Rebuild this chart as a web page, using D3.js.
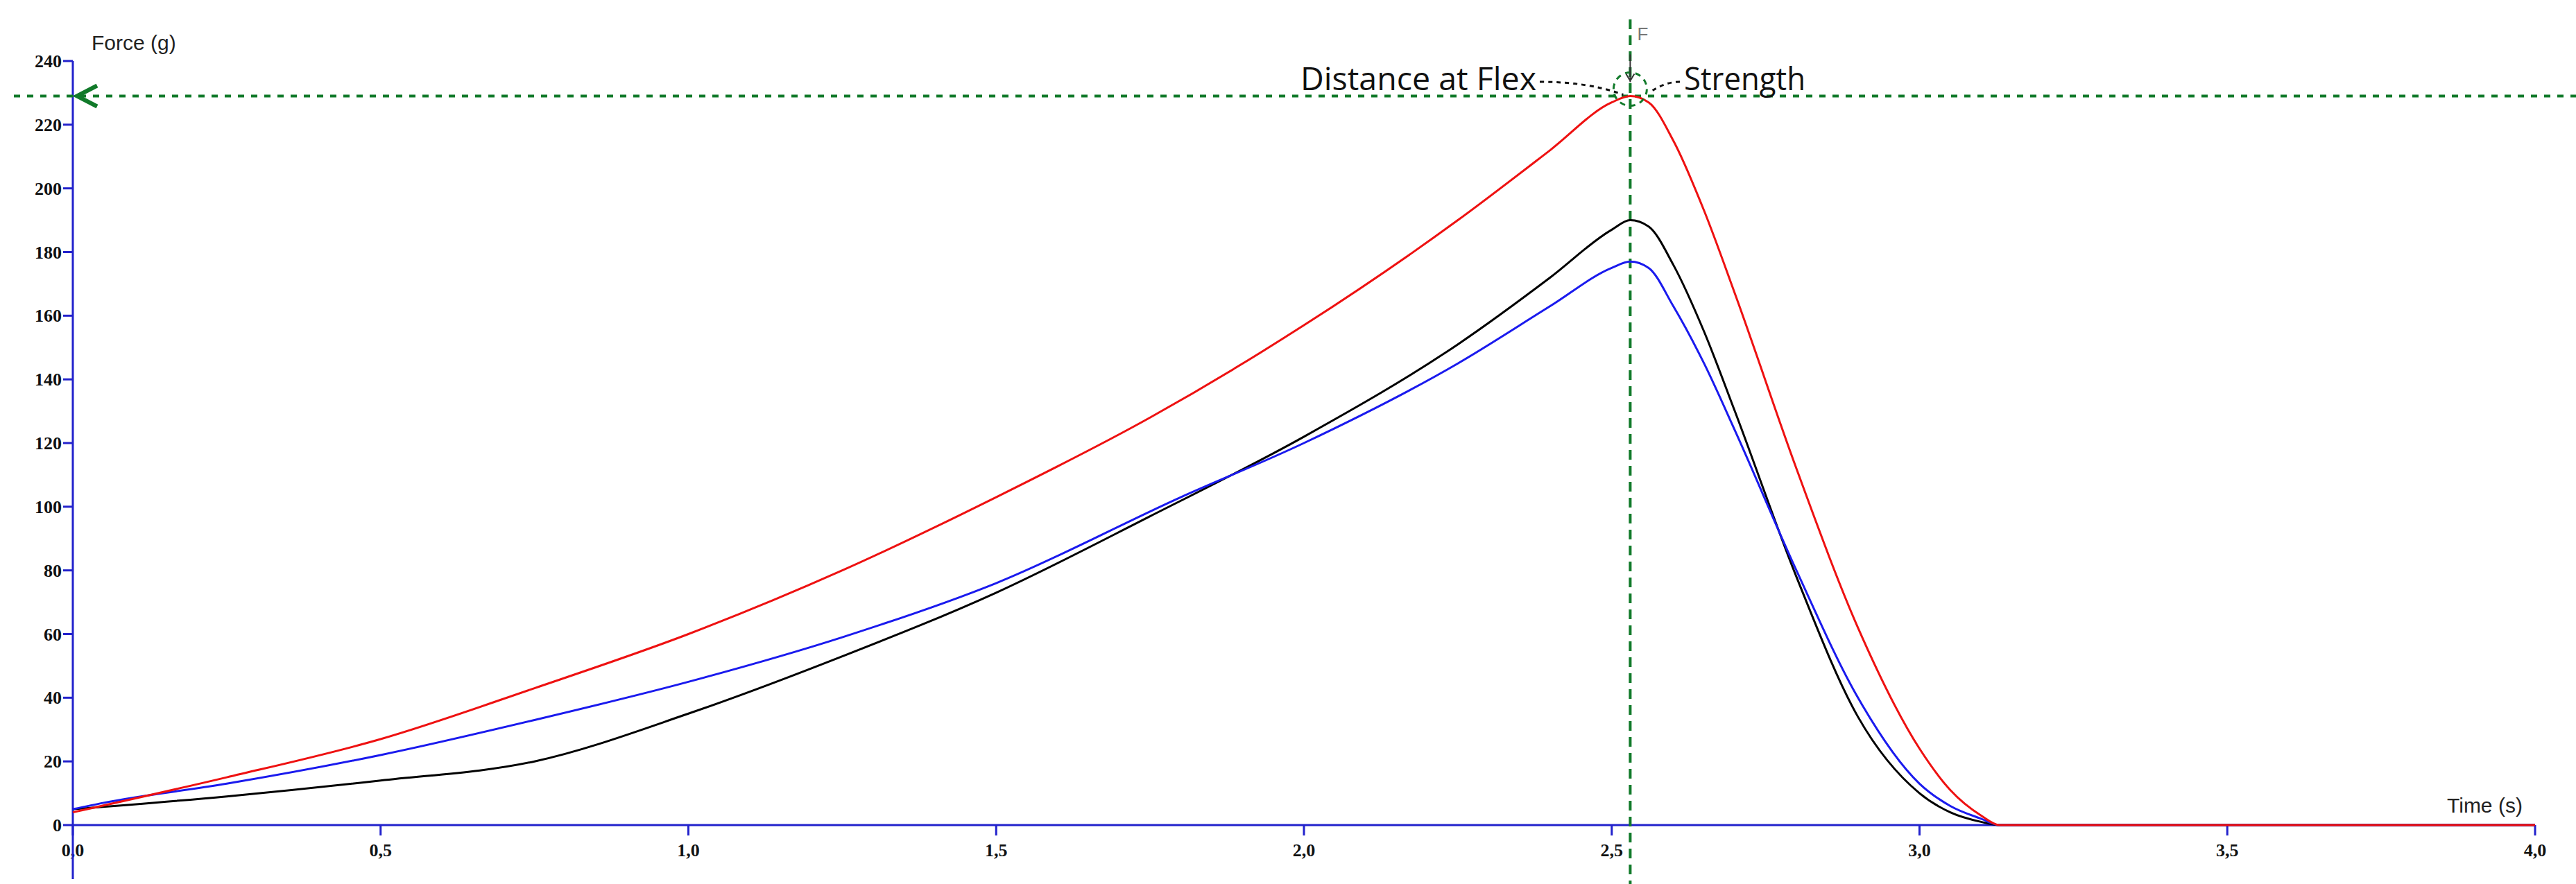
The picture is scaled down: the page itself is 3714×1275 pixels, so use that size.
<!DOCTYPE html>
<html>
<head>
<meta charset="utf-8">
<script src="https://cdn.jsdelivr.net/npm/d3@7"></script>
<style>
  body { margin: 0; background: #fff; }
  svg { display: block; }
</style>
</head>
<body>
<svg id="chart"></svg>
<script>
const xTicks = [0, 0.5, 1.0, 1.5, 2.0, 2.5, 3.0, 3.5, 4.0];
const yTicks = [0, 20, 40, 60, 80, 100, 120, 140, 160, 180, 200, 220, 240];

const redT = [0, 0.25, 0.5, 0.75, 1.0, 1.25, 1.5, 1.75, 2.0, 2.25, 2.4, 2.5, 2.53, 2.56, 2.6, 2.65, 2.7, 2.8, 2.9, 3.0, 3.05, 3.1, 3.13, 3.5, 4.0];
const redF = [4, 15, 27, 43, 60, 80, 103, 128, 157, 190, 212, 227, 229, 227, 215, 193, 167, 112, 62, 24, 11, 3, 0, 0, 0];

const blueT = [0, 0.05, 0.25, 0.5, 0.75, 1.0, 1.25, 1.5, 1.8, 2.0, 2.25, 2.4, 2.5, 2.53, 2.56, 2.6, 2.65, 2.7, 2.8, 2.9, 3.0, 3.05, 3.1, 3.13, 3.5, 4.0];
const blueF = [5, 7, 13, 22, 33, 45, 59, 76, 103, 120, 145, 163, 175, 177, 175, 163, 145, 124, 80, 40, 13, 6, 2, 0, 0, 0];

const blackT = [0, 0.25, 0.5, 0.75, 1.0, 1.25, 1.5, 1.75, 2.0, 2.25, 2.4, 2.5, 2.53, 2.56, 2.6, 2.65, 2.7, 2.8, 2.9, 3.0, 3.05, 3.1, 3.13, 3.5, 4.0];
const blackF = [5, 9, 14, 20, 35, 53, 73, 97, 122, 151, 172, 187, 190, 188, 176, 155, 130, 78, 34, 10, 4, 1, 0, 0, 0];

const peakT = 2.53;
const peakF = 229;

const width = 3714, height = 1275;
const svg = d3.select("#chart").attr("width", width).attr("height", height);

const x = d3.scaleLinear().domain([0, 4]).range([105, 3655]);
const y = d3.scaleLinear().domain([0, 240]).range([1190, 88]);

const axisColor = "#2222cc";
const tickFont = "'Liberation Serif', serif";

// x axis
svg.append("line")
  .attr("x1", x(0)).attr("x2", x(4))
  .attr("y1", y(0)).attr("y2", y(0))
  .attr("stroke", axisColor).attr("stroke-width", 3);

svg.selectAll(".xt").data(xTicks).join("line")
  .attr("x1", d => x(d)).attr("x2", d => x(d))
  .attr("y1", y(0)).attr("y2", y(0) + 15)
  .attr("stroke", axisColor).attr("stroke-width", 3);

svg.selectAll(".xl").data(xTicks).join("text")
  .attr("x", d => x(d)).attr("y", y(0) + 45)
  .attr("text-anchor", "middle")
  .attr("font-family", tickFont).attr("font-weight", "bold")
  .attr("font-size", 26).attr("fill", "#111")
  .text(d => d3.format(".1f")(d).replace(".", ","));

// y axis
svg.append("line")
  .attr("x1", x(0)).attr("x2", x(0))
  .attr("y1", y(240)).attr("y2", 1268)
  .attr("stroke", axisColor).attr("stroke-width", 3);

svg.selectAll(".yt").data(yTicks).join("line")
  .attr("x1", x(0) - 14).attr("x2", x(0))
  .attr("y1", d => y(d)).attr("y2", d => y(d))
  .attr("stroke", axisColor).attr("stroke-width", 3);

svg.selectAll(".yl").data(yTicks).join("text")
  .attr("x", x(0) - 16).attr("y", d => y(d) + 9)
  .attr("text-anchor", "end")
  .attr("font-family", tickFont).attr("font-weight", "bold")
  .attr("font-size", 26).attr("fill", "#111")
  .text(d => d);

svg.append("text")
  .attr("x", 132).attr("y", 72)
  .attr("font-family", "'Liberation Sans', Arial, sans-serif")
  .attr("font-size", 30).attr("fill", "#222")
  .text("Force (g)");

svg.append("text")
  .attr("x", 3528).attr("y", 1172)
  .attr("font-family", "'Liberation Sans', Arial, sans-serif")
  .attr("font-size", 30).attr("fill", "#222")
  .text("Time (s)");

// peak guide lines
const green = "#117a2a";
svg.append("line")
  .attr("x1", 20).attr("x2", width)
  .attr("y1", y(peakF)).attr("y2", y(peakF))
  .attr("stroke", green).attr("stroke-width", 4)
  .attr("stroke-dasharray", "9 10");

svg.append("line")
  .attr("x1", x(peakT)).attr("x2", x(peakT))
  .attr("y1", 28).attr("y2", height)
  .attr("stroke", green).attr("stroke-width", 4)
  .attr("stroke-dasharray", "14 9");

// left arrow marker
svg.append("path")
  .attr("d", `M${x(0) + 35},${y(peakF) - 15} L${x(0) + 6},${y(peakF)} L${x(0) + 35},${y(peakF) + 15}`)
  .attr("fill", "none").attr("stroke", green).attr("stroke-width", 6);

// curves
const line = d3.line().x(d => x(d[0])).y(d => y(d[1])).curve(d3.curveMonotoneX);
const series = [
  { t: blackT, f: blackF, color: "#000" },
  { t: blueT, f: blueF, color: "#1a1aee" },
  { t: redT, f: redF, color: "#ee1111" },
];
series.forEach(s => {
  svg.append("path")
    .datum(d3.zip(s.t, s.f))
    .attr("d", line)
    .attr("fill", "none")
    .attr("stroke", s.color)
    .attr("stroke-width", 3);
});

// peak annotation
const px = x(peakT), py = y(peakF);
svg.append("circle")
  .attr("cx", px).attr("cy", py - 10).attr("r", 24)
  .attr("fill", "none").attr("stroke", green).attr("stroke-width", 3)
  .attr("stroke-dasharray", "8 7");

svg.append("path")
  .attr("d", `M${px},${py - 60} L${px},${py - 20} M${px - 6},${py - 32} L${px},${py - 22} L${px + 6},${py - 32}`)
  .attr("fill", "none").attr("stroke", "#333").attr("stroke-width", 2);

svg.append("text")
  .attr("x", px + 10).attr("y", 58)
  .attr("font-family", "'Liberation Sans', sans-serif")
  .attr("font-size", 26).attr("fill", "#777")
  .text("F");

const annFont = "'Open Sans', 'Noto Sans', sans-serif";
svg.append("text")
  .attr("x", 2215).attr("y", 130)
  .attr("text-anchor", "end")
  .attr("font-family", annFont).attr("font-size", 46)
  .attr("textLength", 340).attr("lengthAdjust", "spacingAndGlyphs")
  .attr("fill", "#111")
  .text("Distance at Flex");

svg.append("text")
  .attr("x", 2428).attr("y", 130)
  .attr("font-family", annFont).attr("font-size", 46)
  .attr("textLength", 175).attr("lengthAdjust", "spacingAndGlyphs")
  .attr("fill", "#111")
  .text("Strength");

svg.append("path")
  .attr("d", `M2220,118 Q2290,118 ${px - 10},${py - 2}`)
  .attr("fill", "none").attr("stroke", "#111").attr("stroke-width", 3)
  .attr("stroke-dasharray", "6 6");

svg.append("path")
  .attr("d", `M2422,118 Q2400,118 ${px + 28},${py - 5}`)
  .attr("fill", "none").attr("stroke", "#111").attr("stroke-width", 3)
  .attr("stroke-dasharray", "6 6");
</script>
</body>
</html>
